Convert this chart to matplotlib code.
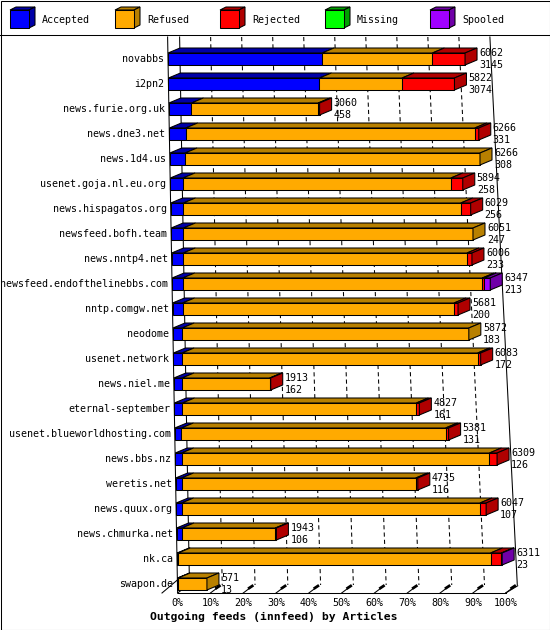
import matplotlib
matplotlib.use('Agg')
import matplotlib.pyplot as plt
from matplotlib.patches import Polygon, Rectangle

# ---- data (article counts per outgoing feed) ----
feeds = ['novabbs', 'i2pn2', 'news.furie.org.uk', 'news.dne3.net', 'news.1d4.us',
         'usenet.goja.nl.eu.org', 'news.hispagatos.org', 'newsfeed.bofh.team',
         'news.nntp4.net', 'newsfeed.endofthelinebbs.com', 'nntp.comgw.net',
         'neodome', 'usenet.network', 'news.niel.me', 'eternal-september',
         'usenet.blueworldhosting.com', 'news.bbs.nz', 'weretis.net',
         'news.quux.org', 'news.chmurka.net', 'nk.ca', 'swapon.de']
totals = [6062, 5822, 3060, 6266, 6266, 5894, 6029, 6051, 6006, 6347, 5681,
          5872, 6083, 1913, 4827, 5381, 6309, 4735, 6047, 1943, 6311, 571]
accepted = [3145, 3074, 458, 331, 308, 258, 256, 247, 233, 213, 200,
            183, 172, 162, 161, 131, 126, 116, 107, 106, 23, 13]
rejected = [667, 1068, 30, 80, 0, 240, 200, 0, 100, 40, 80,
            0, 60, 20, 60, 60, 150, 40, 120, 20, 210, 0]
missing = [0] * 22
spooled = [0, 0, 0, 0, 0, 0, 0, 0, 0, 120, 0, 0, 0, 0, 0, 0, 0, 0, 0, 0, 15, 0]
refused = [t - a - r - m - s for t, a, r, m, s in
           zip(totals, accepted, rejected, missing, spooled)]

series = ['Accepted', 'Refused', 'Rejected', 'Missing', 'Spooled']
front_cols = ['#0000FF', '#FFAA00', '#FF0000', '#00FF00', '#A000FF']
dark_cols = ['#0000A8', '#B88000', '#B00000', '#00A000', '#7000A8']
ticks = [f'{k * 10}%' for k in range(11)]
title = 'Outgoing feeds (innfeed) by Articles'

MONO = 'DejaVu Sans Mono'
FS = 7.2
DX, DY = 12, 5
BH = 12
Y0, STEP = 59, 25
vmax = max(totals)


def x0(y):
    return 168 + (y - 59) * 9 / 500


def wid(y):
    return 311 + (y - 59) * 16 / 500


def px(frac, y):
    return x0(y) + frac * wid(y)


fig = plt.figure(figsize=(5.5, 6.3), dpi=100)
ax = fig.add_axes([0, 0, 1, 1])
ax.set_xlim(0, 550)
ax.set_ylim(630, 0)
ax.axis('off')

lw = 0.75
# frame + legend separator
ax.add_patch(Rectangle((0.5, 0.5), 549, 629, fill=False, lw=lw, ec='black'))
ax.plot([0, 550], [35, 35], color='black', lw=lw)

# legend cubes
for i, (name, fc, dc) in enumerate(zip(series, front_cols, dark_cols)):
    lx = 10 + i * 105
    ax.add_patch(Polygon([(lx, 10), (lx + 6, 7), (lx + 25, 7), (lx + 19, 10)],
                         closed=True, fc=dc, ec='black', lw=lw))
    ax.add_patch(Polygon([(lx + 19, 10), (lx + 25, 7), (lx + 25, 25), (lx + 19, 28)],
                         closed=True, fc=dc, ec='black', lw=lw))
    ax.add_patch(Rectangle((lx, 10), 19, 18, fc=fc, ec='black', lw=lw))
    ax.text(lx + 32, 20, name, family=MONO, fontsize=FS, va='center', ha='left')

# back plane grid
ytop, ybot = 37, 585
for k in range(11):
    f = k / 10
    xa = px(f, ytop + 20) + DX
    xb = px(f, ybot) + DX
    ls = '-' if k in (0, 10) else (0, (4, 3))
    ax.plot([xa - (xb - xa) * 20 / (ybot - ytop - 20), xb], [ytop, ybot],
            color='black', lw=lw, ls=ls, zorder=1)

# left axis and floor
ax.plot([x0(ytop), x0(593)], [ytop, 593], color='black', lw=lw, zorder=1)
ax.plot([162, x0(580)], [593, 580], color='black', lw=lw)
ax.plot([px(0, 593), px(1, 593)], [593, 593], color='black', lw=lw)
ax.plot([px(1, 593), px(1, 593) + DX], [593, 593 - DX * 0.6], color='black', lw=lw)
for k, lab in enumerate(ticks):
    xf = px(k / 10, 593)
    ax.plot([xf, xf + 8], [593, 587], color='black', lw=lw)
    ax.plot([xf + 6, xf + 9], [588, 586], color='black', lw=2)
    ax.text(xf, 603, lab, family=MONO, fontsize=FS, ha='center', va='center')

ax.text(274, 617, title, family=MONO, fontsize=8.2, fontweight='bold',
        ha='center', va='center')

# bars
for i, feed in enumerate(feeds):
    yc = Y0 + STEP * i
    yt, yb = yc - BH / 2, yc + BH / 2
    vals = [accepted[i], refused[i], rejected[i], missing[i], spooled[i]]
    cum = 0
    last = 0
    for j, v in enumerate(vals):
        if v <= 0:
            continue
        xa = px(cum / vmax, yc)
        xb = px((cum + v) / vmax, yc)
        ax.add_patch(Polygon([(xa, yt), (xa + DX, yt - DY), (xb + DX, yt - DY), (xb, yt)],
                             closed=True, fc=dark_cols[j], ec='black', lw=lw, zorder=3))
        ax.add_patch(Rectangle((xa, yt), xb - xa, BH, fc=front_cols[j], ec='black',
                               lw=lw, zorder=3))
        cum += v
        last = j
    xe = px(cum / vmax, yc)
    ax.add_patch(Polygon([(xe, yt), (xe + DX, yt - DY), (xe + DX, yb - DY), (xe, yb)],
                         closed=True, fc=dark_cols[last], ec='black', lw=lw, zorder=3))
    ax.text(x0(yc) - 4, yc, feed, family=MONO, fontsize=FS, ha='right', va='center')
    ax.text(xe + DX + 2, yc - 6, str(totals[i]), family=MONO, fontsize=FS,
            ha='left', va='center', zorder=4)
    ax.text(xe + DX + 2, yc + 6, str(accepted[i]), family=MONO, fontsize=FS,
            ha='left', va='center', zorder=4)

fig.savefig('out.png', dpi=100)
plt.close(fig)
